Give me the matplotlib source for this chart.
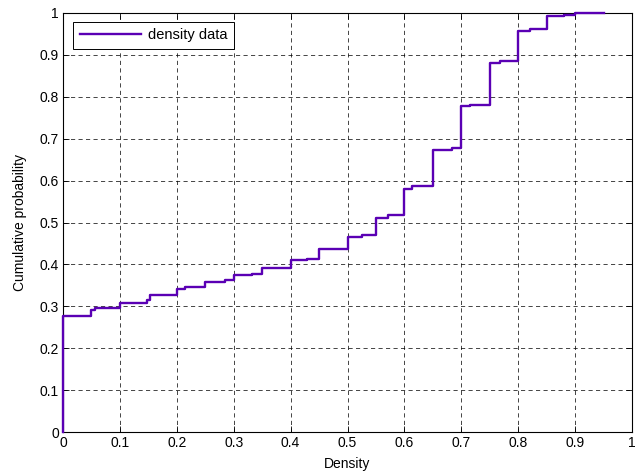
import matplotlib
matplotlib.use("Agg")
import matplotlib.pyplot as plt

# Step points of the empirical CDF (value holds from x onward)
density = [0, 0, 0.05, 0.056, 0.1, 0.148, 0.153, 0.2, 0.215, 0.25, 0.285, 0.3, 0.332,
           0.35, 0.4, 0.428, 0.45, 0.5, 0.525, 0.55, 0.572, 0.6, 0.613, 0.65, 0.683,
           0.7, 0.715, 0.75, 0.768, 0.8, 0.821, 0.85, 0.88, 0.9, 0.95]
cum_prob = [0, 0.278, 0.292, 0.296, 0.309, 0.315, 0.327, 0.341, 0.345, 0.359, 0.362,
            0.374, 0.378, 0.392, 0.411, 0.414, 0.436, 0.466, 0.47, 0.51, 0.517, 0.579,
            0.587, 0.673, 0.679, 0.777, 0.781, 0.88, 0.886, 0.958, 0.961, 0.992, 0.996,
            1.0, 1.0]
xticks = [0, 0.1, 0.2, 0.3, 0.4, 0.5, 0.6, 0.7, 0.8, 0.9, 1]
yticks = [0, 0.1, 0.2, 0.3, 0.4, 0.5, 0.6, 0.7, 0.8, 0.9, 1]

plt.rcParams['font.family'] = ['Liberation Sans', 'DejaVu Sans']
fig = plt.figure(figsize=(6.35, 4.76), dpi=100)
ax = fig.add_axes([0.0992, 0.0924, 0.8961, 0.8803])

ax.step(density, cum_prob, where='post', color='#5a00b4', lw=1.7, label='density data',
        zorder=5, clip_on=False)

ax.set_xlim(0, 1)
ax.set_ylim(0, 1)
ax.set_xticks(xticks)
ax.set_yticks(yticks)
ax.set_xticklabels([f"{t:g}" for t in xticks])
ax.set_yticklabels([f"{t:g}" for t in yticks])
ax.tick_params(direction='in', top=True, right=True, labelsize=10, length=4, width=0.6, pad=3)
ax.grid(True, color='black', linestyle=(0, (5, 4)), linewidth=0.6, alpha=0.85)
for s in ax.spines.values():
    s.set_linewidth(0.8)

ax.set_xlabel('Density', fontsize=10, labelpad=5)
ax.set_ylabel('Cumulative probability', fontsize=10, labelpad=9)

leg = ax.legend(loc='upper left', fontsize=10.5, fancybox=False, framealpha=1,
                edgecolor='black', handlelength=4.2, borderpad=0.45, handletextpad=0.5,
                bbox_to_anchor=(0.005, 0.997))
leg.get_frame().set_linewidth(0.7)

fig.savefig('out.png', dpi=100)
